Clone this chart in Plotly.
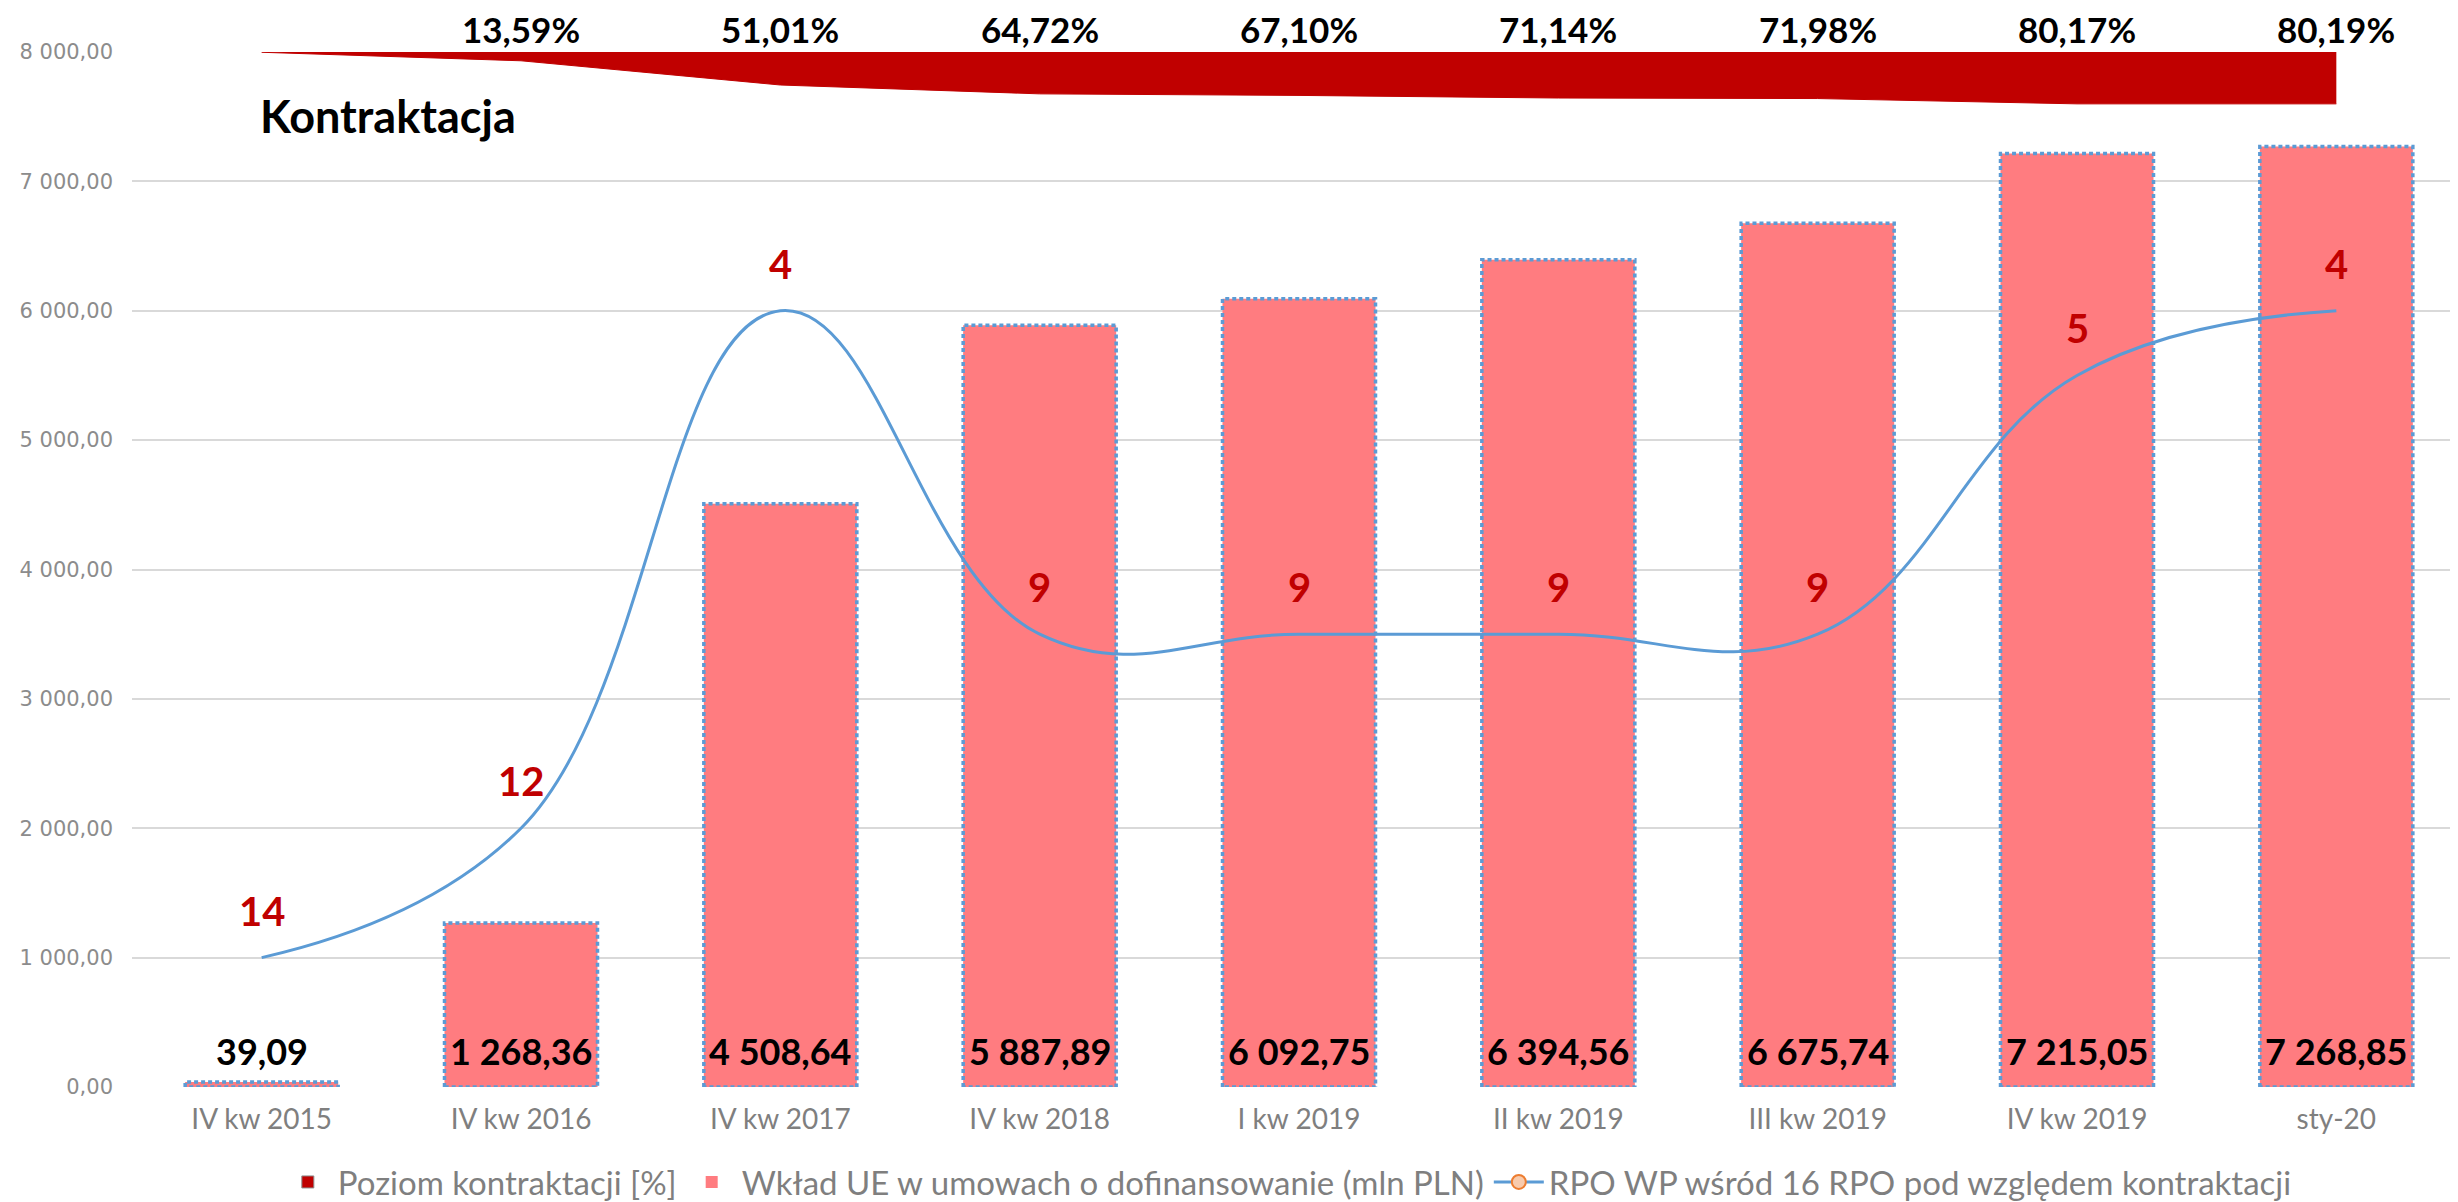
import plotly.graph_objects as go

# ---------------- data ----------------
categories = ["IV kw 2015", "IV kw 2016", "IV kw 2017", "IV kw 2018", "I kw 2019",
              "II kw 2019", "III kw 2019", "IV kw 2019", "sty-20"]
eu_contribution = [39.09, 1268.36, 4508.64, 5887.89, 6092.75, 6394.56, 6675.74, 7215.05, 7268.85]
contracting_level = [0.0043, 0.1359, 0.5101, 0.6472, 0.6710, 0.7114, 0.7198, 0.8017, 0.8019]
level_label_shown = [False, True, True, True, True, True, True, True, True]
rank_among_16 = [14, 12, 4, 9, 9, 9, 9, 5, 4]
y_ticks = [0, 1000, 2000, 3000, 4000, 5000, 6000, 7000, 8000]

name_level = "Poziom kontraktacji [%]"
name_eu = "Wkład UE w umowach o dofinansowanie (mln PLN)"
name_rank = "RPO WP wśród 16 RPO pod względem kontraktacji"
title = "Kontraktacja"


def pl_num(v):
    return f"{v:,.2f}".replace(",", " ").replace(".", ",")


def pl_pct(v):
    return f"{v * 100:.2f}%".replace(".", ",")


# ---------------- styles ----------------
FONT = "Lato, 'Open Sans', sans-serif"
BAR_FILL = "#FF7C80"
BLUE = "#5B9BD5"
DARK_RED = "#C00000"
GRID = "#D9D9D9"
BAR_W = 0.59

xs = list(range(len(categories)))

fig = go.Figure()

# area: contracting level (secondary reversed axis)
fig.add_trace(go.Scatter(
    x=xs, y=contracting_level, yaxis="y2", mode="lines",
    fill="tozeroy", fillcolor=DARK_RED,
    line=dict(color=DARK_RED, width=1),
    showlegend=False, hoverinfo="skip"))
# legend entry for the area (rectangle symbol)
fig.add_trace(go.Bar(
    x=[None], y=[None], marker=dict(color=DARK_RED, line=dict(color="#8C8C8C", width=1)),
    name=name_level, legendrank=1))

# bars: EU contribution
fig.add_trace(go.Bar(
    x=xs, y=eu_contribution, width=BAR_W,
    marker=dict(color=BAR_FILL, line=dict(width=0)),
    name=name_eu, legendrank=2))

# dotted outlines of the bars (derived from bar values)
ox, oy = [], []
for x, v in zip(xs, eu_contribution):
    l, r = x - BAR_W / 2, x + BAR_W / 2
    ox += [l, l, r, r, l, None]
    oy += [0, v, v, 0, 0, None]
fig.add_trace(go.Scatter(
    x=ox, y=oy, mode="lines",
    line=dict(color=BLUE, width=3.5, dash="4px,3px"),
    showlegend=False, hoverinfo="skip"))

# rank line (secondary reversed axis)
fig.add_trace(go.Scatter(
    x=xs, y=rank_among_16, yaxis="y2", mode="lines",
    line=dict(color=BLUE, width=3, shape="spline", smoothing=1.2),
    showlegend=False))
# legend entry for the rank line
fig.add_trace(go.Scatter(
    x=[None], y=[None], yaxis="y2", mode="lines+markers",
    line=dict(color=BLUE, width=3),
    marker=dict(size=14, color="#F8CBAD", line=dict(color="#ED7D31", width=2)),
    name=name_rank, legendrank=3))

annotations = []
# bar value labels
for x, v in zip(xs, eu_contribution):
    annotations.append(dict(x=x, y=0, xref="x", yref="y", text=pl_num(v),
                            showarrow=False, yanchor="bottom", yshift=12,
                            font=dict(family=FONT, size=36, color="black", weight="bold")))
# percent labels above the plot
for x, v, shown in zip(xs, contracting_level, level_label_shown):
    if shown:
        annotations.append(dict(x=x, y=1, xref="x", yref="paper", text=pl_pct(v),
                                showarrow=False, yanchor="bottom", yshift=0,
                                font=dict(family=FONT, size=35, color="black", weight="bold")))
# rank labels
for x, r in zip(xs, rank_among_16):
    annotations.append(dict(x=x, y=r, xref="x", yref="y2", text=str(r),
                            showarrow=False, yanchor="middle", yshift=47,
                            font=dict(family=FONT, size=40, color=DARK_RED, weight="bold")))
# title
annotations.append(dict(x=0.054, y=0.938, xref="paper", yref="paper", text=title,
                        showarrow=False, xanchor="left", yanchor="middle",
                        font=dict(family=FONT, size=45, color="black", weight="bold")))

fig.update_layout(
    width=2458, height=1202,
    margin=dict(l=124, r=0, t=44, b=112),
    paper_bgcolor="white", plot_bgcolor="white",
    font=dict(family=FONT, color="#7F7F7F"),
    bargap=0.41,
    barmode="overlay",
    showlegend=True,
    legend=dict(orientation="h", x=0.495, xanchor="center", y=-0.092, yanchor="middle",
                font=dict(family=FONT, size=33, color="#7F7F7F"),
                itemwidth=50, traceorder="normal"),
    xaxis=dict(range=[-0.5, len(categories) - 0.5], tickvals=xs, ticktext=categories,
               showgrid=False, zeroline=False, showline=False, ticks="",
               tickfont=dict(family=FONT, size=28, color="#7F7F7F"),
               ticklabelstandoff=13),
    yaxis=dict(range=[0, 8000], tickvals=y_ticks, ticktext=[pl_num(t) for t in y_ticks],
               showgrid=True, gridcolor=GRID, gridwidth=2, zeroline=False, showline=False,
               ticks="", tickfont=dict(family="'DejaVu Sans', Verdana, sans-serif", size=21,
                                      color="#8C8C8C"),
               ticklabelstandoff=18),
    yaxis2=dict(overlaying="y", range=[16, 0], visible=False, showgrid=False),
    annotations=annotations,
)

fig.write_html("out.html")
